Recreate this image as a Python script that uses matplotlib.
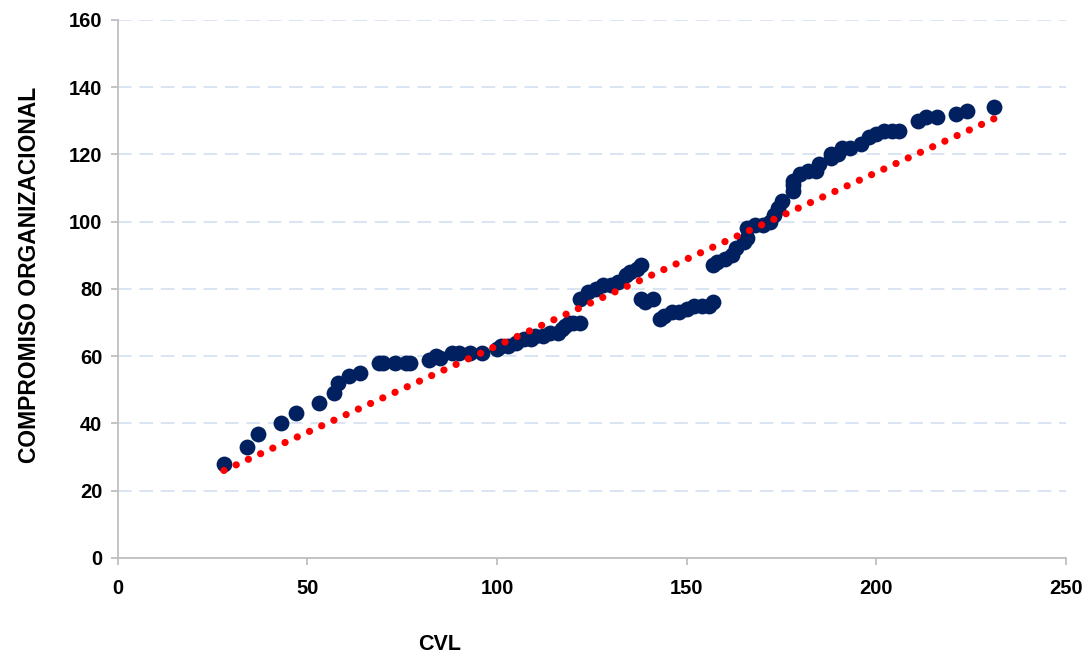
import numpy as np
import matplotlib
matplotlib.use('Agg')
import matplotlib.pyplot as plt
from matplotlib.ticker import MultipleLocator

plt.rcParams['font.family'] = ['Liberation Sans', 'DejaVu Sans']

# CVL vs compromiso organizacional
cvl = [28, 34, 37, 43, 47, 53, 57, 58, 61, 64,
       69, 70, 73, 76, 77, 82, 84, 85, 88, 90,
       93, 96, 100, 101, 103, 105, 107, 109, 110, 112,
       114, 116, 117, 118, 119, 120, 122, 122, 124, 126,
       128, 130, 132, 134, 135, 137, 138, 138, 139, 141,
       143, 144, 146, 148, 150, 152, 154, 156, 157, 157,
       158, 160, 162, 163, 165, 166, 166, 168, 170, 172,
       173, 174, 175, 178, 178, 178, 180, 182, 184, 185,
       188, 188, 190, 191, 193, 196, 198, 200, 202, 204,
       206, 211, 213, 216, 221, 224, 231]
compromiso = [28, 33, 37, 40, 43, 46, 49, 52, 54, 55,
              58, 58, 58, 58, 58, 59, 60, 59.5, 61, 61,
              61, 61, 62, 63, 63, 64, 65, 65, 66, 66,
              67, 67, 68, 69, 70, 70, 70, 77, 79, 80,
              81, 81, 82, 84, 85, 86, 87, 77, 76, 77,
              71, 72, 73, 73, 74, 75, 75, 75, 76, 87,
              88, 89, 90, 92, 94, 95, 98, 99, 99, 100,
              102, 104, 106, 109, 111, 112, 114, 115, 115, 117,
              119, 120, 120, 122, 122, 123, 125, 126, 127, 127,
              127, 130, 131, 131, 132, 133, 134]

# linear trend line as drawn in the picture
trend_slope = 0.515
trend_intercept = 11.6

x = np.array(cvl, dtype=float)
y = np.array(compromiso, dtype=float)
xt = np.array([x.min(), x.max()])

fig = plt.figure(figsize=(10.9, 6.58), dpi=100)
ax = fig.add_axes([0.108, 0.152, 0.870, 0.818])

ax.yaxis.grid(True, color='#d9e4f2', linestyle=(0, (7, 4)), linewidth=1.4)
ax.set_axisbelow(True)

ax.scatter(x, y, s=130, color='#002060', zorder=3, linewidths=0)
ax.plot(xt, trend_slope * xt + trend_intercept, color='#ff0000', linewidth=5.2,
        linestyle=(0, (0.01, 1.85)), dash_capstyle='round', zorder=4)

ax.set_xlim(0, 250)
ax.set_ylim(0, 160)
ax.xaxis.set_major_locator(MultipleLocator(50))
ax.yaxis.set_major_locator(MultipleLocator(20))

for s in ['top', 'right']:
    ax.spines[s].set_visible(False)
for s in ['left', 'bottom']:
    ax.spines[s].set_color('#bfbfbf')
    ax.spines[s].set_linewidth(1.3)

ax.tick_params(axis='both', colors='#bfbfbf', length=5, width=1.3,
               labelcolor='black', labelsize=14.5)
ax.tick_params(axis='x', pad=10)
ax.tick_params(axis='y', pad=6)
for lbl in ax.get_xticklabels() + ax.get_yticklabels():
    lbl.set_fontweight('bold')

fig.text(440 / 1090, 1 - 645 / 658, 'CVL', ha='center', va='center',
         fontsize=15.5, fontweight='bold')
fig.text(30 / 1090, 1 - 275 / 658, 'COMPROMISO ORGANIZACIONAL', ha='center',
         va='center', rotation=90, fontsize=16.5, fontweight='bold')

fig.savefig('out.png', dpi=100)
